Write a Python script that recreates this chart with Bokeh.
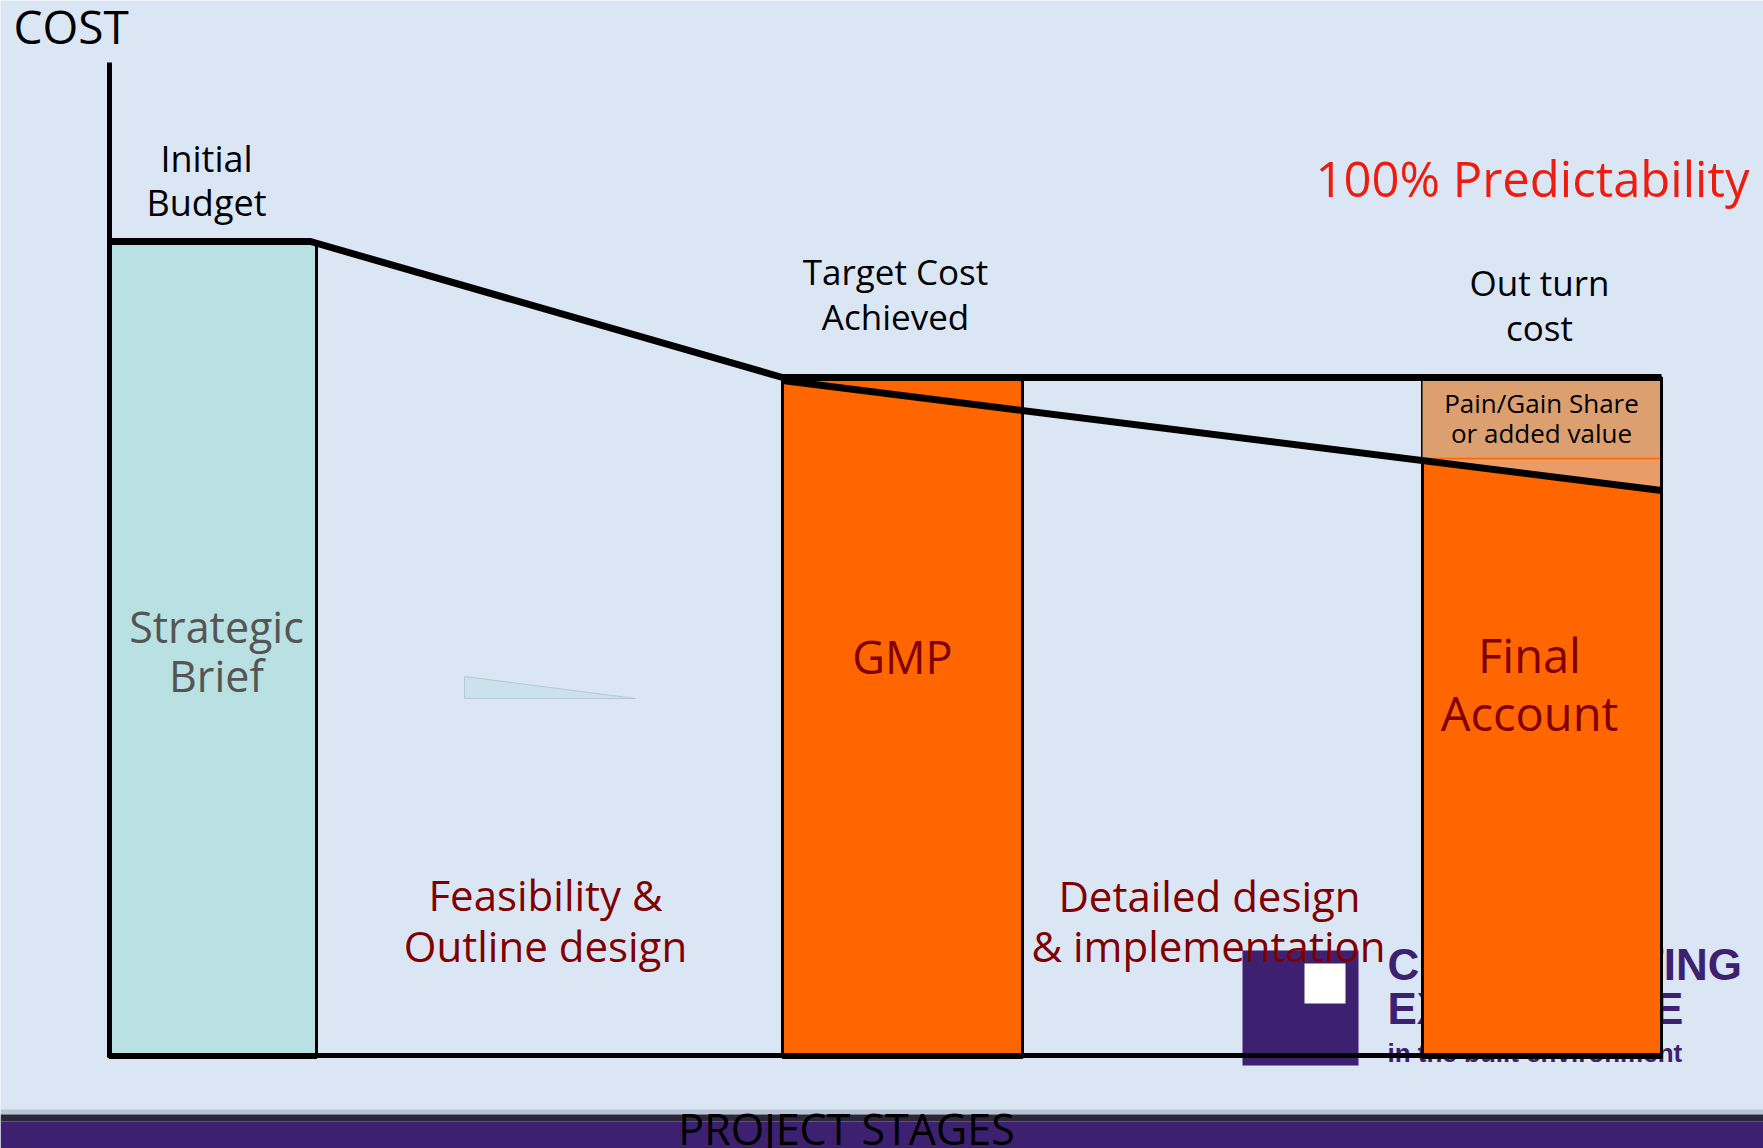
from bokeh.plotting import figure
from bokeh.models import Range1d, ColumnDataSource
from bokeh.core.properties import value
from bokeh.embed import file_html
from bokeh.resources import INLINE

# ---------------- data (x: project-stage position, y: cost units) ----------------
stage_names = ["Strategic Brief", "Feasibility & Outline design", "GMP",
               "Detailed design & implementation", "Final Account"]
stage_start = [0, 207, 673, 913, 1313]
stage_end = [207, 673, 913, 1313, 1552]

# cost bars (only the three "gateway" stages have bars)
bar_names = ["Strategic Brief", "GMP", "Final Account"]
bar_left = [0, 673, 1313]
bar_right = [207, 913, 1552]
bar_top = [816, 680, 680]

initial_budget = 816
target_cost = 680

# budget / target cost line
target_line_x = [0, 201, 673, 1552]
target_line_y = [816, 816, 680, 680]

# actual (out-turn) cost line
outturn_x = [673, 1552]
outturn_y = [677, 567]

# pain / gain share band on the final account
paingain_left, paingain_right = 1313, 1552
paingain_bottom, paingain_top = 599, 680

# ---------------- colours / fonts ----------------
BG = "#dbe6f5"
TEAL = "#b9e0e2"
ORANGE = "#ff6600"
TAN = "#dca070"
DARKRED = "#800000"
PURPLE = "#3e2070"
FONT = "Open Sans"

p = figure(width=1763, height=1148, output_backend="svg", toolbar_location=None,
           x_range=Range1d(-109, 1654), y_range=Range1d(-91, 1057),
           x_axis_location=None, y_axis_location=None,
           min_border=0, min_border_left=0, min_border_right=0,
           min_border_top=0, min_border_bottom=0)
p.background_fill_color = BG
p.border_fill_color = BG
p.outline_line_color = None
p.grid.visible = False


def label(x, y, txt, size, color="black", align="center", font=FONT, style="normal"):
    # y is the baseline position; shift compensates for the renderer's baseline placement
    p.text(x=[x], y=[y + 0.4 * size], text=[txt], text_font=value(font), text_font_size=f"{size}px",
           text_font_style=style, text_color=color, text_align=align, text_baseline="alphabetic")


# bottom band
p.quad(left=[-109], right=[1654], bottom=[-57], top=[-52], fill_color="#b9c3d3", line_color=None)
p.quad(left=[-109], right=[1654], bottom=[-64], top=[-57], fill_color="#2b2638", line_color=None)
p.quad(left=[-109], right=[1654], bottom=[-91], top=[-64], fill_color=PURPLE, line_color=None)

# logo (partly hidden behind the final-account bar)
p.quad(left=[1133], right=[1249], bottom=[-8], top=[107], fill_color=PURPLE, line_color=None)
p.quad(left=[1195], right=[1236], bottom=[54], top=[94], fill_color="white", line_color=None)
label(1278, 75, "CONSTRUCTING", 44, color=PURPLE, align="left", font="Liberation Sans", style="bold")
label(1278, 31, "EXCELLENCE", 44, color=PURPLE, align="left", font="Liberation Sans", style="bold")
label(1278, -6, "in the built environment", 26, color=PURPLE, align="left", font="Liberation Sans", style="bold")

# small decorative wedge
p.patch(x=[355, 355, 526], y=[381, 359, 359], fill_color="#cbe2ea", line_color="#b8c8d4", line_width=1)

# bars
bar_fill = [TEAL, ORANGE, ORANGE]
src = ColumnDataSource(dict(left=bar_left, right=bar_right, top=bar_top,
                            bottom=[0, 0, 0], color=bar_fill, name=bar_names))
p.quad(left="left", right="right", top="top", bottom="bottom", fill_color="color",
       line_color="black", line_width=3, source=src)

# pain/gain share band
p.quad(left=[paingain_left], right=[paingain_right], bottom=[paingain_bottom], top=[paingain_top],
       fill_color=TAN, line_color=None)
p.patch(x=[paingain_left, paingain_right, paingain_right],
        y=[paingain_bottom, paingain_bottom, outturn_y[1]],
        fill_color="#e99c68", line_color=None)
p.line(x=[paingain_left, paingain_right], y=[paingain_bottom, paingain_bottom],
       line_color=ORANGE, line_width=1.5)
p.line(x=[paingain_right, paingain_right], y=[0, paingain_top], line_color="black", line_width=3)

# axes
p.line(x=[0, 0], y=[0, 995], line_color="black", line_width=5)
p.line(x=[0, 1552], y=[2, 2], line_color="black", line_width=5)

# cost lines
p.line(x=target_line_x, y=target_line_y, line_color="black", line_width=7)
p.line(x=outturn_x, y=outturn_y, line_color="black", line_width=7)

label(-96, 1013, "COST", 46, align="left")
label(97, 885, "Initial", 36)
label(97, 841, "Budget", 36)
label(786, 772, "Target Cost", 35)
label(786, 727, "Achieved", 35)
label(1430, 761, "Out turn", 35)
label(1430, 716, "cost", 35)
label(1423, 860, "100% Predictability", 49, color="#ee1c0e")
label(107, 414, "Strategic", 43, color="#555555")
label(107, 365, "Brief", 43, color="#555555")
label(793, 383, "GMP", 45, color=DARKRED)
label(1420, 384, "Final", 47, color=DARKRED)
label(1420, 326, "Account", 47, color=DARKRED)
label(436, 146, "Feasibility &", 42, color=DARKRED)
label(436, 95, "Outline design", 42, color=DARKRED)
label(1100, 145, "Detailed design", 42, color=DARKRED)
label(1099, 95, "& implementation", 42, color=DARKRED)
label(1432, 644, "Pain/Gain Share", 26)
label(1432, 614, "or added value", 26)
label(737, -88, "PROJECT STAGES", 43)

open("out.html", "w").write(file_html(p, INLINE))
